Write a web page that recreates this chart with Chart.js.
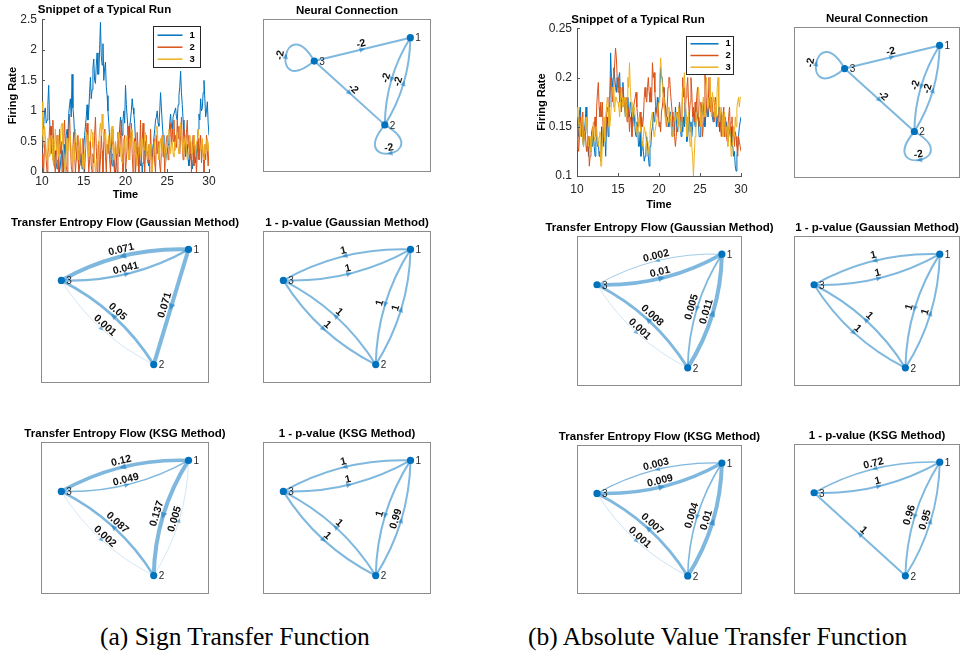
<!DOCTYPE html>
<html>
<head>
<meta charset="utf-8">
<script src="https://cdn.jsdelivr.net/npm/chart.js@4.4.1/dist/chart.umd.min.js"></script>
<style>
html, body { margin:0; padding:0; background:#fff; overflow:hidden; }
body { width:961px; height:659px; position:relative; }
canvas { position:absolute; }
.cap { position:absolute; font-family:"Liberation Serif", serif; font-size:25.5px; color:#000; white-space:nowrap; }
</style>
</head>
<body>
<div class="cap" style="left:100px; top:622px;">(a) Sign Transfer Function</div>
<div class="cap" style="left:528px; top:622px;">(b) Absolute Value Transfer Function</div>
<script>
// ---------- time series (snippet of a run) ----------
var runTime = [10,10.1,10.2,10.3,10.4,10.5,10.6,10.7,10.8,10.9,
  11,11.1,11.2,11.3,11.4,11.5,11.6,11.7,11.8,11.9,
  12,12.1,12.2,12.3,12.4,12.5,12.6,12.7,12.8,12.9,
  13,13.1,13.2,13.3,13.4,13.5,13.6,13.7,13.8,13.9,
  14,14.1,14.2,14.3,14.4,14.5,14.6,14.7,14.8,14.9,
  15,15.1,15.2,15.3,15.4,15.5,15.6,15.7,15.8,15.9,
  16,16.1,16.2,16.3,16.4,16.5,16.6,16.7,16.8,16.9,
  17,17.1,17.2,17.3,17.4,17.5,17.6,17.7,17.8,17.9,
  18,18.1,18.2,18.3,18.4,18.5,18.6,18.7,18.8,18.9,
  19,19.1,19.2,19.3,19.4,19.5,19.6,19.7,19.8,19.9,
  20,20.1,20.2,20.3,20.4,20.5,20.6,20.7,20.8,20.9,
  21,21.1,21.2,21.3,21.4,21.5,21.6,21.7,21.8,21.9,
  22,22.1,22.2,22.3,22.4,22.5,22.6,22.7,22.8,22.9,
  23,23.1,23.2,23.3,23.4,23.5,23.6,23.7,23.8,23.9,
  24,24.1,24.2,24.3,24.4,24.5,24.6,24.7,24.8,24.9,
  25,25.1,25.2,25.3,25.4,25.5,25.6,25.7,25.8,25.9,
  26,26.1,26.2,26.3,26.4,26.5,26.6,26.7,26.8,26.9,
  27,27.1,27.2,27.3,27.4,27.5,27.6,27.7,27.8,27.9,
  28,28.1,28.2,28.3,28.4,28.5,28.6,28.7,28.8,28.9,
  29,29.1,29.2,29.3,29.4,29.5,29.6,29.7,29.8,29.9,30];

// (a) sign transfer function
var rateA1 = [0.9,0.7,0.75,1.0,1.05,0.8,0.85,1.1,1.42,0.9,
  0.6,0.75,0.3,0.45,0.1,0.25,0.35,0.15,0.05,0.2,
  0.2,0,0.1,0.3,0.35,0.1,0,0.45,0.3,0.6,
  0.7,0.55,0.95,1.1,1.2,0.9,1.6,1.05,0.9,0.6,
  0.5,0.3,0.2,0.35,0,0.1,0.15,0.3,0.05,0.2,
  0.4,0.6,0.75,0.9,1.1,0.85,1.0,1.3,1.55,1.2,
  1.35,1.7,1.85,1.5,1.45,1.75,1.95,1.6,1.6,2.0,
  2.45,1.9,1.75,2.1,1.5,1.7,1.8,1.4,1.25,1.0,
  0.8,0.55,0.4,0.2,0.1,0.3,0.2,0.05,0,0.15,
  0.3,0.45,0.55,0.7,0.9,0.75,0.6,0.85,1.0,0.8,
  1.42,1.1,0.9,0.7,0.55,0.75,0.85,1.0,1.2,1.05,
  0.95,0.8,0.5,0.35,0.2,0.4,0.35,0.15,0.1,0.25,
  0,0.15,0.25,0.4,0.5,0.35,0.3,0.15,0.1,0.3,
  0.4,0.25,0.2,0.45,0.55,0.7,0.85,0.9,1.0,0.8,
  0.75,1.0,1.3,1.05,0.8,0.6,0.4,0.25,0.15,0.3,
  0.3,0.45,0.55,0.8,0.95,0.75,0.7,0.9,0.9,1.0,
  1.05,0.9,0.85,1.1,1.25,1.4,1.65,1.3,1.1,0.85,
  0.6,0.4,0.25,0.35,0.45,0.2,0.1,0.25,0.3,0.15,
  0.05,0.2,0.35,0.25,0.15,0.3,0.5,0.7,0.95,0.85,
  1.2,1.0,1.05,1.3,1.5,1.2,0.9,1.0,1.15,0.8,0.6];
var rateA2 = [0.3,0.1,0,0.45,0.5,0.2,0,0.3,0.4,0.7,
  0.75,0.3,0.55,0.85,0.4,0.1,0,0.25,0.6,0.45,
  0,0.7,0.3,0.5,0,0.2,0.55,0.85,0.4,0.1,
  0,0.35,0.6,0.95,0.5,0.1,0,0.4,0.65,0.3,
  0,0.2,0.45,0.6,0,0.35,0.5,0.1,0.3,0.55,
  0.25,0,0.3,0.6,0.8,0.35,0,0.2,0.5,0.1,
  0,0.3,0.15,0.6,0.9,0.4,0,0.25,0.5,0,
  0.2,0.6,0.35,0,0.5,0.7,0.25,0,0.45,0.3,
  0.55,0.2,0,0.35,0.7,0.45,0.1,0,0.5,0.3,
  0,0.65,0.4,0.25,0.6,0.85,0.3,0,0.4,0.6,
  0,0.2,0.4,0.75,0.35,0.2,0.55,0.8,0.3,0,
  0.3,0.55,0,0.2,0.65,0.4,0,0.35,0.85,0.1,
  0.5,0.8,0.35,0,0.3,0.6,0.25,0.15,0.45,0,
  0.7,0.3,0,0.4,0.55,0.15,0,0.6,0.3,0.5,
  0.4,0.1,0,0.35,0.6,0.25,0.45,0,0.3,0.55,
  0.6,0.2,0.3,0.55,0.8,0.45,0.7,0.5,0.85,0.35,
  0.6,0.4,0.85,0.55,0.75,0.3,0.6,0.9,0.45,0.2,
  0.7,0.5,0.3,0.65,0.85,0.4,0.6,0.2,0.5,0,
  0.35,0.6,0.1,0.45,0.25,0,0.3,0.55,0.2,0.4,
  0.6,0.15,0.5,0.3,0,0.45,0.2,0.6,0.35,0.1,0.4];
var rateA3 = [1.15,0.6,0.4,0.75,0.6,0.3,0.2,0.55,0.5,0.25,
  0.3,0.6,0.55,0.2,0.1,0.45,0.7,0.35,0.45,0.6,
  0.25,0.4,0.5,0.75,0.8,0.45,0.3,0.1,0,0.3,
  0.55,0.4,0.35,0.6,0.6,0.3,0.15,0.4,0.45,0.2,
  0.7,0.5,0.4,0.2,0.2,0.45,0.55,0.3,0.3,0.1,
  0,0.3,0.45,0.65,0.6,0.35,0.25,0.5,0.5,0.7,
  0.65,0.4,0.35,0.15,0,0.2,0.2,0.45,0.45,0.7,
  0.8,0.6,0.95,0.7,0.5,0.6,0.7,0.45,0.3,0.5,
  0.6,0.35,0.45,0.7,0.75,0.5,0.2,0.4,0.5,0.3,
  0.3,0.5,0.65,0.45,0.4,0.2,0.15,0.35,0.55,0.4,
  0.3,0.5,0.6,0.35,0.2,0.4,0.45,0.7,0.7,0.5,
  0.35,0.45,0.5,0.3,0.1,0.3,0.4,0.55,0.25,0.4,
  0.55,0.4,0.35,0.6,0.65,0.4,0.2,0.3,0.45,0.2,
  0.45,0.2,0,0.25,0.3,0.5,0.5,0.75,0.75,0.4,
  0.2,0.45,0.55,0.3,0.35,0.6,0.6,0.3,0.15,0.4,
  0.4,0.6,0.7,0.5,0.3,0.45,0.5,0.3,0.25,0.5,
  0.45,0.6,0.65,0.4,0.3,0.55,0.8,0.6,0.5,0.3,
  0.35,0.55,0.6,0.4,0.2,0.3,0.45,0.6,0.55,0.3,
  0.3,0.45,0.6,0.4,0.25,0.5,0.5,0.7,0.7,0.45,
  0.35,0.4,0.55,0.25,0.2,0.45,0.3,0.5,0.55,0.35,0.5];

// (b) absolute value transfer function
var rateB1 = [0.16,0.15,0.14,0.165,0.17,0.155,0.15,0.135,0.13,0.145,
  0.155,0.17,0.15,0.14,0.12,0.14,0.13,0.125,0.145,0.13,
  0.145,0.13,0.12,0.135,0.14,0.13,0.135,0.12,0.125,0.115,
  0.15,0.14,0.13,0.15,0.14,0.12,0.15,0.16,0.14,0.17,
  0.17,0.225,0.2,0.19,0.2,0.21,0.2,0.19,0.185,0.2,
  0.19,0.2,0.205,0.18,0.175,0.18,0.195,0.18,0.17,0.16,
  0.165,0.17,0.18,0.16,0.16,0.175,0.17,0.15,0.15,0.165,
  0.16,0.145,0.14,0.155,0.15,0.13,0.13,0.145,0.12,0.125,
  0.135,0.125,0.115,0.12,0.125,0.14,0.13,0.12,0.11,0.13,
  0.13,0.145,0.15,0.165,0.155,0.16,0.17,0.165,0.18,0.17,
  0.18,0.19,0.21,0.2,0.2,0.185,0.19,0.175,0.17,0.16,
  0.16,0.155,0.15,0.165,0.165,0.15,0.14,0.15,0.155,0.145,
  0.17,0.16,0.145,0.15,0.16,0.175,0.15,0.14,0.16,0.145,
  0.16,0.15,0.175,0.16,0.135,0.14,0.15,0.16,0.145,0.155,
  0.14,0.15,0.165,0.16,0.15,0.165,0.17,0.16,0.155,0.14,
  0.14,0.15,0.16,0.165,0.175,0.16,0.15,0.16,0.17,0.165,
  0.16,0.17,0.18,0.175,0.17,0.16,0.155,0.165,0.165,0.17,
  0.15,0.16,0.16,0.17,0.145,0.16,0.165,0.15,0.16,0.145,
  0.14,0.15,0.155,0.14,0.135,0.15,0.145,0.14,0.15,0.13,
  0.13,0.12,0.125,0.11,0.105,0.12,0.13,0.14,0.15,0.155,0.16];
var rateB2 = [0.15,0.13,0.125,0.14,0.16,0.15,0.14,0.165,0.135,0.14,
  0.15,0.13,0.125,0.14,0.14,0.11,0.12,0.13,0.145,0.15,
  0.14,0.15,0.16,0.14,0.17,0.185,0.195,0.17,0.16,0.175,
  0.16,0.175,0.14,0.15,0.155,0.14,0.16,0.17,0.165,0.18,
  0.18,0.2,0.19,0.175,0.19,0.2,0.215,0.23,0.22,0.2,
  0.185,0.2,0.175,0.19,0.165,0.175,0.19,0.17,0.18,0.165,
  0.18,0.155,0.17,0.165,0.145,0.16,0.155,0.14,0.155,0.17,
  0.175,0.18,0.185,0.17,0.16,0.15,0.155,0.165,0.145,0.16,
  0.15,0.16,0.18,0.19,0.18,0.175,0.19,0.2,0.185,0.175,
  0.19,0.175,0.215,0.2,0.205,0.185,0.17,0.165,0.16,0.175,
  0.15,0.155,0.145,0.165,0.17,0.18,0.19,0.17,0.16,0.15,
  0.17,0.19,0.2,0.2,0.185,0.175,0.165,0.15,0.16,0.14,
  0.13,0.14,0.15,0.165,0.16,0.175,0.16,0.155,0.165,0.2,
  0.18,0.19,0.165,0.18,0.19,0.2,0.175,0.16,0.175,0.2,
  0.185,0.16,0.17,0.155,0.175,0.165,0.18,0.19,0.16,0.15,
  0.16,0.175,0.17,0.14,0.15,0.16,0.205,0.19,0.17,0.16,
  0.17,0.2,0.185,0.165,0.18,0.175,0.16,0.155,0.175,0.18,
  0.165,0.16,0.15,0.165,0.17,0.15,0.14,0.155,0.16,0.17,
  0.14,0.16,0.145,0.135,0.15,0.16,0.17,0.145,0.155,0.16,
  0.14,0.15,0.13,0.145,0.14,0.13,0.12,0.14,0.135,0.13,0.125];
var rateB3 = [0.17,0.16,0.155,0.145,0.14,0.155,0.16,0.135,0.13,0.145,
  0.145,0.16,0.15,0.14,0.13,0.14,0.14,0.125,0.13,0.145,
  0.155,0.14,0.135,0.15,0.15,0.135,0.13,0.14,0.145,0.11,
  0.11,0.135,0.15,0.16,0.135,0.16,0.17,0.18,0.17,0.15,
  0.15,0.16,0.175,0.19,0.19,0.17,0.165,0.18,0.18,0.175,
  0.175,0.17,0.16,0.175,0.19,0.18,0.17,0.175,0.18,0.16,
  0.16,0.18,0.2,0.19,0.215,0.19,0.175,0.165,0.16,0.17,
  0.17,0.16,0.15,0.145,0.14,0.155,0.16,0.15,0.145,0.14,
  0.13,0.14,0.15,0.145,0.14,0.13,0.12,0.125,0.135,0.145,
  0.155,0.16,0.165,0.15,0.14,0.145,0.15,0.155,0.16,0.17,
  0.175,0.2,0.22,0.205,0.195,0.18,0.17,0.165,0.155,0.16,
  0.15,0.155,0.17,0.165,0.16,0.15,0.14,0.145,0.155,0.16,
  0.155,0.165,0.16,0.15,0.17,0.16,0.145,0.15,0.16,0.19,
  0.19,0.205,0.18,0.16,0.14,0.15,0.165,0.14,0.13,0.15,
  0.13,0.12,0.1,0.12,0.14,0.15,0.16,0.175,0.19,0.18,
  0.165,0.15,0.155,0.17,0.18,0.17,0.16,0.19,0.2,0.18,
  0.17,0.18,0.2,0.175,0.16,0.185,0.18,0.175,0.16,0.17,
  0.16,0.19,0.2,0.17,0.155,0.165,0.17,0.16,0.14,0.15,
  0.165,0.14,0.15,0.145,0.13,0.15,0.155,0.14,0.12,0.13,
  0.135,0.15,0.14,0.16,0.15,0.17,0.175,0.18,0.17,0.18,0.18];

var seriesNames = ['1', '2', '3'];
var seriesColors = ['#0072BD', '#D95319', '#EDB120'];
var timeTicks = [10, 15, 20, 25, 30];
var rateTicksA = [0, 0.5, 1, 1.5, 2, 2.5];
var rateTicksB = [0.1, 0.15, 0.2, 0.25];

// ---------- graphs ----------
var nodeNames = ['1', '2', '3'];
// layout of the nodes inside each plot box (0..1, y up)
var neuralX = [0.877, 0.725, 0.305];
var neuralY = [0.878, 0.308, 0.725];
var flowX = [0.878, 0.671, 0.121];
var flowY = [0.879, 0.121, 0.675];

// neural connection weights
var neuralSrc = [3, 3, 1, 2, 3, 2];
var neuralDst = [1, 2, 2, 1, 3, 2];
var neuralW = [-2, -2, -2, -2, -2, -2];

// transfer entropy edges: 1->3, 3->1, 2->3, 3->2, 1->2, 2->1
var flowSrc = [1, 3, 2, 3, 1, 2];
var flowDst = [3, 1, 3, 2, 2, 1];
var teGaussA = [0.071, 0.041, 0.05, 0.001, 0.071, 0];
var pGaussA = [1, 1, 1, 1, 1, 1];
var teKsgA = [0.12, 0.049, 0.087, 0.002, 0.137, 0.005];
var pKsgA = [1, 1, 1, 1, 1, 0.99];
var teGaussB = [0.002, 0.01, 0.008, 0.001, 0.005, 0.011];
var pGaussB = [1, 1, 1, 1, 1, 1];
var teKsgB = [0.003, 0.009, 0.007, 0.001, 0.004, 0.01];
var pKsgB = [0.72, 1, 1, 0, 0.96, 0.95];

var SANS = '"Liberation Sans", Arial, sans-serif';
var EDGE = 'rgba(0,114,189,0.5)';

function addCanvas(left, top, w, h) {
  var c = document.createElement('canvas');
  c.width = w; c.height = h;
  c.style.left = left + 'px'; c.style.top = top + 'px';
  document.body.appendChild(c);
  return c;
}

// legend box inside the plot, top right
var boxLegend = {
  id: 'boxLegend',
  afterDatasetsDraw: function(chart, args, o) {
    var ctx = chart.ctx, ca = chart.chartArea;
    var x0 = Math.round(ca.right - o.right - o.width) + 0.5, y0 = Math.round(ca.top + o.top) + 0.5;
    ctx.save();
    ctx.fillStyle = '#fff';
    ctx.fillRect(x0, y0, o.width, o.height);
    ctx.strokeStyle = '#262626'; ctx.lineWidth = 1;
    ctx.strokeRect(x0, y0, o.width, o.height);
    ctx.font = 'bold 9.5px ' + SANS;
    ctx.textBaseline = 'middle';
    chart.data.datasets.forEach(function(ds, i) {
      var y = y0 + o.first + i * o.step;
      ctx.strokeStyle = ds.borderColor; ctx.lineWidth = 1.5;
      ctx.beginPath(); ctx.moveTo(x0 + 4, y); ctx.lineTo(x0 + o.lineLen, y); ctx.stroke();
      ctx.fillStyle = '#000';
      ctx.fillText(ds.label, x0 + o.lineLen + 7, y);
    });
    ctx.restore();
  }
};

// small tick marks pointing into the plot
var innerTicks = {
  id: 'innerTicks',
  afterDraw: function(chart) {
    var ctx = chart.ctx, ca = chart.chartArea, sx = chart.scales.x, sy = chart.scales.y;
    ctx.save();
    ctx.strokeStyle = '#555'; ctx.lineWidth = 1;
    ctx.beginPath();
    sx.ticks.forEach(function(t) {
      var px = Math.round(sx.getPixelForValue(t.value)) + 0.5;
      ctx.moveTo(px, ca.bottom); ctx.lineTo(px, ca.bottom - 3);
    });
    sy.ticks.forEach(function(t) {
      var py = Math.round(sy.getPixelForValue(t.value)) + 0.5;
      ctx.moveTo(ca.left, py); ctx.lineTo(ca.left + 3, py);
    });
    ctx.stroke();
    ctx.restore();
  }
};

function makeRun(pos, series, yTicks, yTitlePad, xTickPad, titlePad, legendBox) {
  var c = addCanvas(pos.left, pos.top, pos.w, pos.h);
  var datasets = series.map(function(vals, i) {
    return {
      label: seriesNames[i], data: vals, borderColor: seriesColors[i],
      borderWidth: 1, pointRadius: 0, tension: 0, order: 3 - i
    };
  });
  return new Chart(c, {
    type: 'line',
    data: { labels: runTime, datasets: datasets },
    options: {
      responsive: false, animation: false, events: [],
      layout: { autoPadding: false, padding: { left: 0, right: pos.padRight, top: 0, bottom: 0 } },
      scales: {
        x: {
          type: 'linear', min: timeTicks[0], max: timeTicks[timeTicks.length - 1],
          afterBuildTicks: function(s) { s.ticks = timeTicks.map(function(v) { return { value: v }; }); },
          afterFit: function(s) { s.height = pos.xAxisH; },
          grid: { display: false, drawTicks: false },
          border: { color: '#555' },
          ticks: { color: '#262626', font: { family: SANS, size: 12 }, padding: xTickPad, maxRotation: 0 },
          title: { display: true, text: 'Time', color: '#000', font: { family: SANS, size: 11, weight: 'bold' }, padding: { top: 1, bottom: 0 } }
        },
        y: {
          min: yTicks[0], max: yTicks[yTicks.length - 1],
          afterBuildTicks: function(s) { s.ticks = yTicks.map(function(v) { return { value: v }; }); },
          afterFit: function(s) { s.width = 42; },
          grid: { display: false, drawTicks: false },
          border: { color: '#555' },
          ticks: { color: '#262626', font: { family: SANS, size: 12 }, padding: 5,
            callback: function(v) { return String(+v.toFixed(2)); } },
          title: { display: true, text: 'Firing Rate', color: '#000', font: { family: SANS, size: 11, weight: 'bold' }, padding: { top: yTitlePad, bottom: 0 } }
        }
      },
      plugins: {
        legend: { display: false }, tooltip: { enabled: false },
        title: { display: true, text: 'Snippet of a Typical Run', color: '#000',
          font: { family: SANS, size: 11.5, weight: 'bold' }, padding: titlePad },
        boxLegend: legendBox
      }
    },
    plugins: [boxLegend, innerTicks]
  });
}

function normAngle(a) {
  while (a > Math.PI / 2) a -= Math.PI;
  while (a <= -Math.PI / 2) a += Math.PI;
  return a;
}

// edges, arrows and weight labels of a directed graph
var graphEdges = {
  id: 'graphEdges',
  beforeDatasetsDraw: function(chart, args, o) {
    var ctx = chart.ctx, ca = chart.chartArea, sx = chart.scales.x, sy = chart.scales.y;
    var ds = chart.data.datasets[0].data;
    var P = ds.map(function(d) { return { x: sx.getPixelForValue(d.x), y: sy.getPixelForValue(d.y) }; });
    ctx.save();
    // plot box
    var bl = Math.round(sx.getPixelForValue(0)), br = Math.round(sx.getPixelForValue(1));
    ctx.strokeStyle = '#8c8c8c'; ctx.lineWidth = 1;
    ctx.strokeRect(bl + 0.5, Math.round(ca.top) + 0.5, br - bl - 1, Math.round(ca.bottom - ca.top) - 1);

    var wmax = 0;
    o.w.forEach(function(v) { wmax = Math.max(wmax, Math.abs(v)); });
    var labels = [];
    for (var k = 0; k < o.w.length; k++) {
      var w = o.w[k];
      if (!w) continue;
      var s = o.src[k] - 1, d = o.dst[k] - 1;
      var lw = Math.max(0.35, o.maxWidth * Math.abs(w) / wmax);
      var mid, tx, ty;
      ctx.strokeStyle = EDGE; ctx.fillStyle = EDGE; ctx.lineWidth = lw;
      ctx.beginPath();
      if (s === d) {
        var th = o.loopAngle[s] * Math.PI / 180, al = 50 * Math.PI / 180, L = o.loopSize;
        var c1 = { x: P[s].x + L * Math.cos(th - al), y: P[s].y + L * Math.sin(th - al) };
        var c2 = { x: P[s].x + L * Math.cos(th + al), y: P[s].y + L * Math.sin(th + al) };
        ctx.moveTo(P[s].x, P[s].y);
        ctx.bezierCurveTo(c1.x, c1.y, c2.x, c2.y, P[s].x, P[s].y);
        mid = { x: P[s].x + 0.75 * L * Math.cos(al) * Math.cos(th), y: P[s].y + 0.75 * L * Math.cos(al) * Math.sin(th) };
        tx = c2.x - c1.x; ty = c2.y - c1.y;
      } else {
        var dx = P[d].x - P[s].x, dy = P[d].y - P[s].y, len = Math.hypot(dx, dy);
        var back = false;
        for (var j = 0; j < o.w.length; j++) {
          if (o.w[j] && o.src[j] - 1 === d && o.dst[j] - 1 === s) back = true;
        }
        var bend = back ? o.bend * len : 0;
        var nx = -dy / len, ny = dx / len;
        var cx = (P[s].x + P[d].x) / 2 + nx * bend, cy = (P[s].y + P[d].y) / 2 + ny * bend;
        ctx.moveTo(P[s].x, P[s].y);
        ctx.quadraticCurveTo(cx, cy, P[d].x, P[d].y);
        mid = { x: (P[s].x + 2 * cx + P[d].x) / 4, y: (P[s].y + 2 * cy + P[d].y) / 4 };
        tx = dx; ty = dy;
      }
      ctx.stroke();
      // arrow head at the middle of the edge
      var a = Math.atan2(ty, tx), al2 = 4.5 + lw * 0.5, hw = 2 + lw * 0.4;
      ctx.beginPath();
      ctx.moveTo(mid.x + Math.cos(a) * al2 / 2, mid.y + Math.sin(a) * al2 / 2);
      ctx.lineTo(mid.x - Math.cos(a) * al2 / 2 - Math.sin(a) * hw, mid.y - Math.sin(a) * al2 / 2 + Math.cos(a) * hw);
      ctx.lineTo(mid.x - Math.cos(a) * al2 / 2 + Math.sin(a) * hw, mid.y - Math.sin(a) * al2 / 2 - Math.cos(a) * hw);
      ctx.closePath();
      ctx.fill();
      labels.push({ x: mid.x, y: mid.y, a: normAngle(a), text: String(w), lw: lw });
    }
    // weight labels on top of the edges
    ctx.font = 'bold 10.5px ' + SANS;
    ctx.fillStyle = '#111';
    ctx.textAlign = 'center'; ctx.textBaseline = 'middle';
    labels.forEach(function(l) {
      ctx.save();
      ctx.translate(l.x, l.y);
      ctx.rotate(l.a);
      ctx.fillText(l.text, 0, -4.5 - l.lw / 2);
      ctx.restore();
    });
    ctx.restore();
  },
  afterDatasetsDraw: function(chart) {
    var ctx = chart.ctx;
    var meta = chart.getDatasetMeta(0);
    ctx.save();
    ctx.font = '10px ' + SANS;
    ctx.fillStyle = '#262626';
    ctx.textAlign = 'left'; ctx.textBaseline = 'middle';
    meta.data.forEach(function(p, i) { ctx.fillText(nodeNames[i], p.x + 5, p.y + 1); });
    ctx.restore();
  }
};

function makeGraph(box, title, xs, ys, src, dst, w, maxWidth, loops) {
  var side = 40;
  var c = addCanvas(box.left - side, box.top - 15, box.w + 2 * side, box.h + 17);
  return new Chart(c, {
    type: 'scatter',
    data: { datasets: [{
      data: xs.map(function(x, i) { return { x: x, y: ys[i] }; }),
      pointRadius: 3.6, pointBackgroundColor: '#0072BD', pointBorderWidth: 0
    }] },
    options: {
      responsive: false, animation: false, events: [],
      layout: { autoPadding: false, padding: { left: 0, right: 0, top: 0, bottom: 2 } },
      scales: {
        x: { type: 'linear', min: -side / box.w, max: 1 + side / box.w, display: false },
        y: { type: 'linear', min: 0, max: 1, display: false }
      },
      plugins: {
        legend: { display: false }, tooltip: { enabled: false },
        title: { display: true, text: title, color: '#000',
          font: { family: SANS, size: 11.5, weight: 'bold' }, padding: { top: 0, bottom: 1.2 } },
        graphEdges: { src: src, dst: dst, w: w, maxWidth: maxWidth, bend: 0.14,
          loopAngle: loops ? loops.angle : [0, 0, 0], loopSize: loops ? loops.size : 0 }
      }
    },
    plugins: [graphEdges]
  });
}

// ---------- (a) ----------
makeRun({ left: 0, top: 0, w: 250, h: 202, padRight: 41, xAxisH: 30 },
  [rateA1, rateA2, rateA3], rateTicksA, 6.4, 2, { top: 3.1, bottom: 2.4 },
  { right: 9, top: 7, width: 47, height: 41, first: 8.7, step: 12, lineLen: 29 });
var loopsNeural = { angle: [0, 80, -170], size: 60 };
makeGraph({ left: 263, top: 19, w: 168, h: 153 }, 'Neural Connection', neuralX, neuralY, neuralSrc, neuralDst, neuralW, 2, loopsNeural);
makeGraph({ left: 41, top: 231, w: 168, h: 152 }, 'Transfer Entropy Flow (Gaussian Method)', flowX, flowY, flowSrc, flowDst, teGaussA, 4);
makeGraph({ left: 263, top: 231, w: 168, h: 152 }, '1 - p-value (Gaussian Method)', flowX, flowY, flowSrc, flowDst, pGaussA, 2);
makeGraph({ left: 41, top: 442, w: 168, h: 152 }, 'Transfer Entropy Flow (KSG Method)', flowX, flowY, flowSrc, flowDst, teKsgA, 4);
makeGraph({ left: 263, top: 442, w: 168, h: 152 }, '1 - p-value (KSG Method)', flowX, flowY, flowSrc, flowDst, pKsgA, 2);

// ---------- (b) ----------
makeRun({ left: 535, top: 9, w: 248, h: 203, padRight: 42, xAxisH: 36 },
  [rateB1, rateB2, rateB3], rateTicksB, 0.8, 6, { top: 4.3, bottom: 1.2 },
  { right: 8, top: 8, width: 47, height: 38, first: 7.3, step: 11.7, lineLen: 32 });
makeGraph({ left: 794, top: 27, w: 166, h: 151 }, 'Neural Connection', neuralX, neuralY, neuralSrc, neuralDst, neuralW, 2, loopsNeural);
makeGraph({ left: 577, top: 236, w: 165, h: 150 }, 'Transfer Entropy Flow (Gaussian Method)', flowX, flowY, flowSrc, flowDst, teGaussB, 4);
makeGraph({ left: 794, top: 236, w: 166, h: 150 }, '1 - p-value (Gaussian Method)', flowX, flowY, flowSrc, flowDst, pGaussB, 2);
makeGraph({ left: 577, top: 445, w: 165, h: 149 }, 'Transfer Entropy Flow (KSG Method)', flowX, flowY, flowSrc, flowDst, teKsgB, 4);
makeGraph({ left: 794, top: 444, w: 166, h: 150 }, '1 - p-value (KSG Method)', flowX, flowY, flowSrc, flowDst, pKsgB, 2);
</script>
</body>
</html>
